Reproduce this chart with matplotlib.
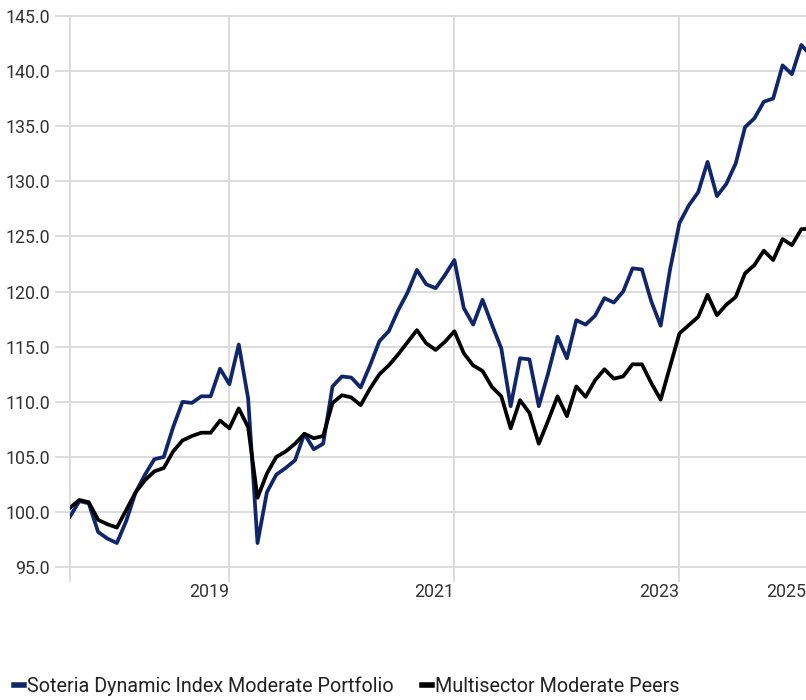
import matplotlib
matplotlib.use("Agg")
import matplotlib.pyplot as plt

# monthly growth of 100
portfolio = [99.6, 101.0, 100.8, 98.2, 97.6, 97.2, 99.2, 101.8, 103.4, 104.8,
             105.0, 107.7, 110.0, 109.9, 110.5, 110.5, 113.0, 111.6, 115.2, 110.3,
             97.2, 101.8, 103.4, 104.0, 104.7, 107.1, 105.7, 106.2, 111.4, 112.3,
             112.2, 111.3, 113.3, 115.5, 116.4, 118.3, 119.9, 121.95, 120.65, 120.3,
             121.5, 122.85, 118.5, 117.0, 119.25, 117.0, 114.85, 109.6, 113.95, 113.85,
             109.6, 112.6, 115.9, 113.95, 117.4, 117.0, 117.8, 119.4, 119.0, 120.0,
             122.1, 122.0, 119.1, 116.9, 122.0, 126.2, 127.8, 129.0, 131.75, 128.65,
             129.75, 131.6, 134.9, 135.7, 137.2, 137.5, 140.5, 139.7, 142.35, 141.4]
peers = [100.4, 101.1, 100.9, 99.3, 98.9, 98.6, 100.2, 101.8, 102.9, 103.7,
         104.0, 105.5, 106.5, 106.9, 107.2, 107.2, 108.3, 107.6, 109.4, 107.7,
         101.3, 103.5, 105.0, 105.5, 106.2, 107.1, 106.7, 106.9, 109.9, 110.6,
         110.4, 109.7, 111.2, 112.5, 113.3, 114.3, 115.4, 116.5, 115.3, 114.7,
         115.45, 116.4, 114.4, 113.3, 112.8, 111.35, 110.5, 107.6, 110.15, 109.0,
         106.2, 108.3, 110.5, 108.7, 111.4, 110.45, 111.95, 112.95, 112.1, 112.3,
         113.4, 113.4, 111.7, 110.2, 113.2, 116.2, 116.95, 117.7, 119.7, 117.85,
         118.8, 119.5, 121.65, 122.4, 123.7, 122.85, 124.75, 124.2, 125.65, 125.7]
labels = ["Soteria Dynamic Index Moderate Portfolio", "Multisector Moderate Peers"]
year_pos = [0, 17, 41, 65, 78.5]
year_labels = ["", "2019", "2021", "2023", "2025"]
y_ticks = [95, 100, 105, 110, 115, 120, 125, 130, 135, 140, 145]

plt.rcParams['font.family'] = ['Roboto', 'DejaVu Sans']

fig = plt.figure(figsize=(8.06, 7.0), dpi=100)
ax = fig.add_axes([70 / 806, 1 - 567.3 / 700, 1 - 70 / 806, (567.3 - 15.7) / 700])

x = list(range(len(portfolio)))
ax.plot(x, portfolio, color="#10266a", lw=2.7, label=labels[0], zorder=3)
ax.plot(x, peers, color="#000000", lw=2.7, label=labels[1], zorder=3)

ax.set_xlim(0, 78.5)
ax.set_ylim(95, 145)
ax.set_yticks(y_ticks)
ax.set_yticklabels([f"{v:.1f}" for v in y_ticks])
ax.set_xticks(year_pos)
ax.set_xticklabels(year_labels, ha="right")

for s in ax.spines.values():
    s.set_visible(False)
ax.grid(True, color="#d9d9d9", lw=1.3)
for gl in ax.get_xgridlines() + ax.get_ygridlines():
    gl.set_clip_on(False)
ax.get_xgridlines()[-1].set_visible(False)
ax.tick_params(axis="both", colors="#d9d9d9", width=1.3, length=10.8,
               labelcolor="#333333", labelsize=12.8)
ax.tick_params(axis="x", pad=0.5)
ax.tick_params(axis="y", pad=3.5)
ax.get_xticklines()[-2].set_visible(False)

leg = fig.legend(loc="center left", bbox_to_anchor=(6 / 806, 1 - 686 / 700), ncol=2,
                 frameon=False, fontsize=14.2, handlelength=0.5, handletextpad=0.15,
                 columnspacing=1.45, borderaxespad=0, labelcolor="#222222")
for line in leg.get_lines():
    line.set_linewidth(4)

fig.savefig("out.png", dpi=100)
